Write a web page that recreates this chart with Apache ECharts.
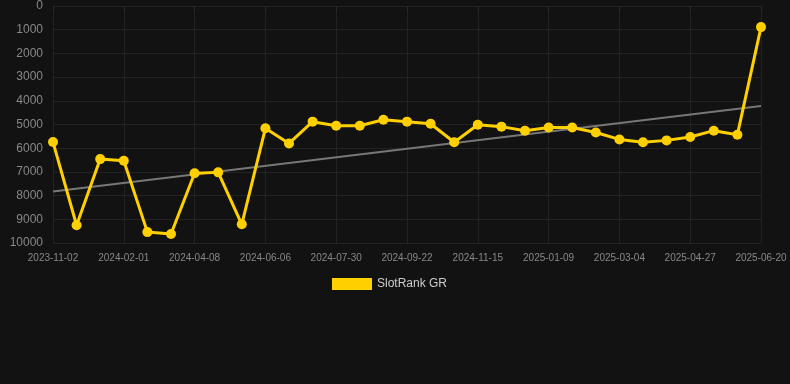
<!DOCTYPE html>
<html><head><meta charset="utf-8">
<script src="https://cdn.jsdelivr.net/npm/echarts@6/dist/echarts.min.js"></script>
<style>html,body{margin:0;padding:0;background:#121212;}#c{width:790px;height:384px;}</style>
</head><body><div id="c"></div>
<script>
const categories = ["2023-11-02","2023-12-02","2024-01-01","2024-02-01","2024-02-23","2024-03-16","2024-04-08","2024-04-28","2024-05-17","2024-06-06","2024-06-24","2024-07-12","2024-07-30","2024-08-17","2024-09-04","2024-09-22","2024-10-10","2024-10-28","2024-11-15","2024-12-03","2024-12-21","2025-01-09","2025-01-27","2025-02-14","2025-03-04","2025-03-22","2025-04-09","2025-04-27","2025-05-15","2025-06-02","2025-06-20"];
const rankValues = [5740,9250,6460,6530,9540,9620,7060,7020,9210,5160,5800,4880,5050,5050,4800,4880,4970,5750,5010,5090,5260,5130,5130,5340,5630,5750,5670,5530,5260,5430,890];
const trendEnds = [7830,4220];
const seriesName = "SlotRank GR";

const chart = echarts.init(document.getElementById('c'));
chart.setOption({
  backgroundColor:'#121212',
  animation:false,
  grid:{left:53,right:29,top:6,bottom:141},
  legend:{top:273,left:327,itemWidth:40,itemHeight:12,itemGap:6,
    textStyle:{color:'#cccccc',fontSize:12},data:[{name:seriesName,icon:'rect'}]},
  xAxis:{type:'category',data:categories,boundaryGap:false,
    axisLine:{show:false},
    axisTick:{show:true,interval:2,length:5,lineStyle:{color:'#2a2a2a'}},
    axisLabel:{interval:2,color:'#888',fontSize:10,margin:10},
    splitLine:{show:true,interval:2,lineStyle:{color:'#222',width:1}}},
  yAxis:{type:'value',inverse:true,min:0,max:10000,interval:1000,
    axisLine:{show:false},axisTick:{show:false},
    axisLabel:{color:'#888',fontSize:12,margin:10,formatter:v=>String(v)},
    splitLine:{lineStyle:{color:'#222',width:1}}},
  series:[
    {name:seriesName,type:'line',data:rankValues,symbol:'circle',symbolSize:10,
      itemStyle:{color:'#FFD000'},lineStyle:{color:'#FFD000',width:3},z:3,
      markLine:{silent:true,symbol:'none',label:{show:false},z:1,
        lineStyle:{color:'#777',width:2,type:'solid'},
        data:[[{coord:[categories[0],trendEnds[0]]},{coord:[categories[categories.length-1],trendEnds[1]]}]]}}
  ]
});
</script></body></html>
